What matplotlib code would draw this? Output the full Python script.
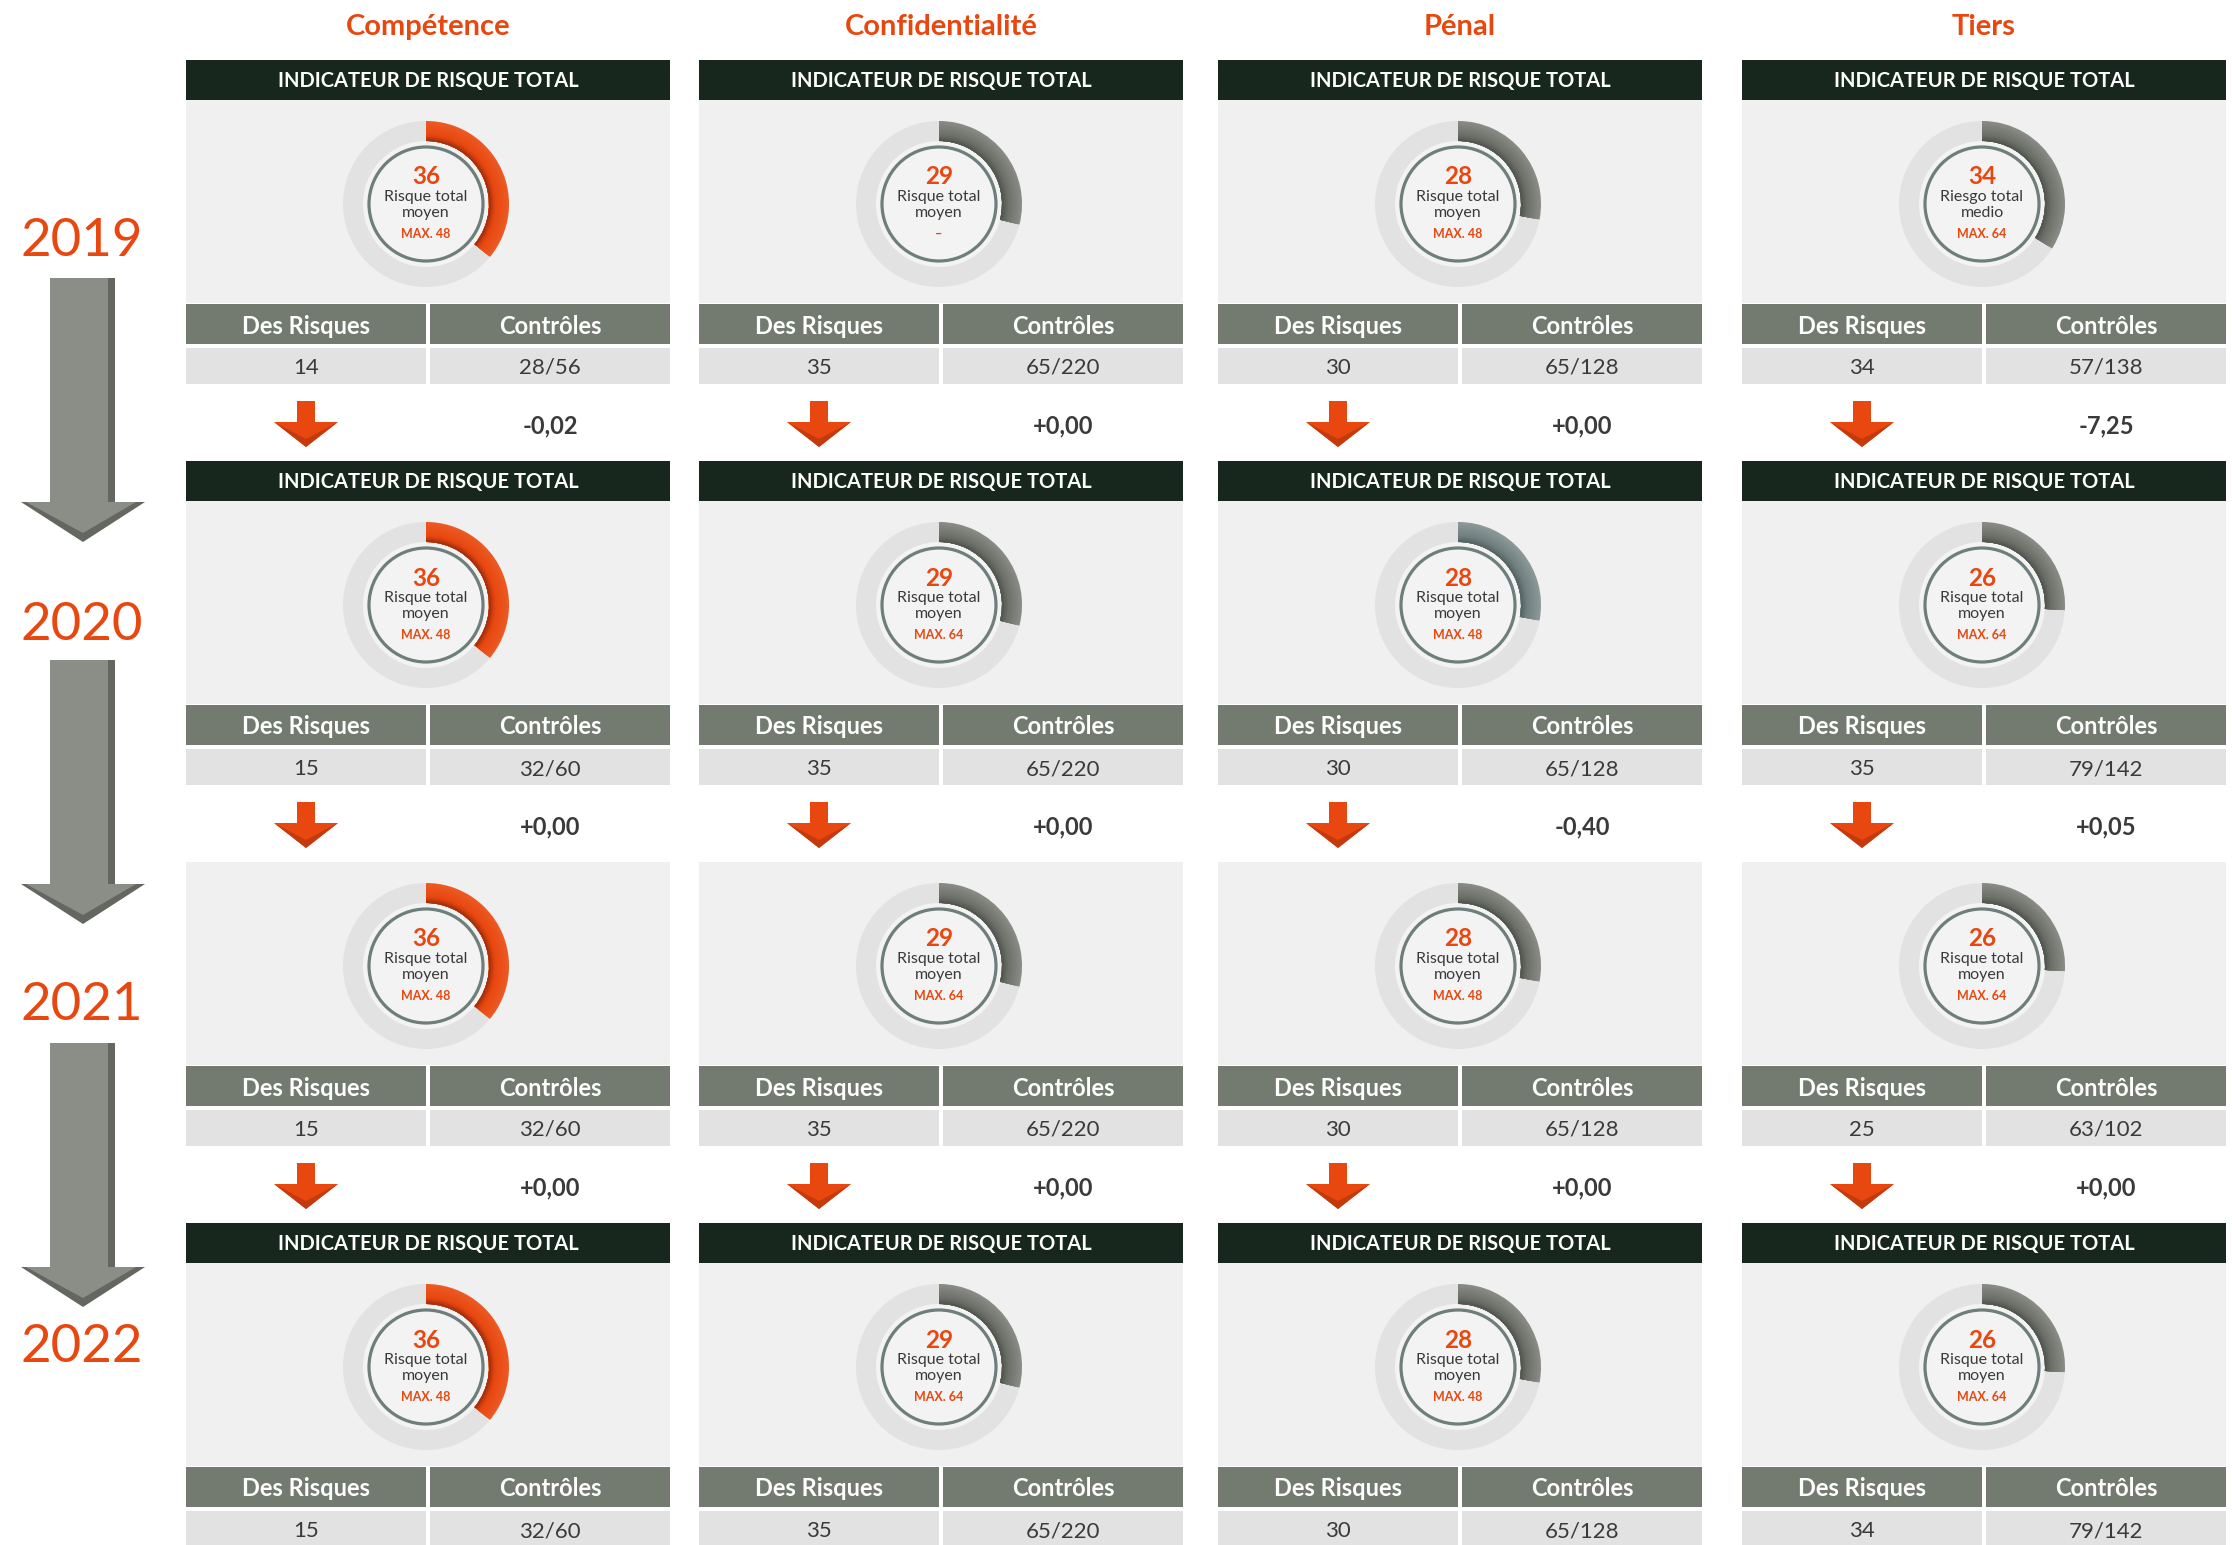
import numpy as np
import matplotlib.pyplot as plt
from matplotlib.patches import Rectangle, Wedge, Circle, Polygon
from matplotlib.colors import to_rgb

plt.rcParams['font.family'] = ['Lato', 'DejaVu Sans']

# ---- data ----
columns = ["Compétence", "Confidentialité", "Pénal", "Tiers"]
years = ["2019", "2020", "2021", "2022"]

total_competence = [36, 36, 36, 36]
total_confidentialite = [29, 29, 29, 29]
total_penal = [28, 28, 28, 28]
total_tiers = [34, 26, 26, 26]

max_competence = ["MAX. 48", "MAX. 48", "MAX. 48", "MAX. 48"]
max_confidentialite = ["–", "MAX. 64", "MAX. 64", "MAX. 64"]
max_penal = ["MAX. 48", "MAX. 48", "MAX. 48", "MAX. 48"]
max_tiers = ["MAX. 64", "MAX. 64", "MAX. 64", "MAX. 64"]

label_fr = ["Risque total", "moyen"]
label_es = ["Riesgo total", "medio"]
tiers_labels = [label_es, label_fr, label_fr, label_fr]

risques_competence = ["14", "15", "15", "15"]
risques_confidentialite = ["35", "35", "35", "35"]
risques_penal = ["30", "30", "30", "30"]
risques_tiers = ["34", "35", "25", "34"]

controles_competence = ["28/56", "32/60", "32/60", "32/60"]
controles_confidentialite = ["65/220", "65/220", "65/220", "65/220"]
controles_penal = ["65/128", "65/128", "65/128", "65/128"]
controles_tiers = ["57/138", "79/142", "63/102", "79/142"]

# change shown between one year and the next
delta_competence = ["-0,02", "+0,00", "+0,00"]
delta_confidentialite = ["+0,00", "+0,00", "+0,00"]
delta_penal = ["+0,00", "-0,40", "+0,00"]
delta_tiers = ["-7,25", "+0,05", "+0,00"]

arc_competence = ["orange"] * 4
arc_confidentialite = ["grey"] * 4
arc_penal = ["grey", "bluegrey", "grey", "grey"]
arc_tiers = ["grey"] * 4

has_header = [True, True, False, True]

totals = [total_competence, total_confidentialite, total_penal, total_tiers]
maxes = [max_competence, max_confidentialite, max_penal, max_tiers]
labels = [[label_fr] * 4, [label_fr] * 4, [label_fr] * 4, tiers_labels]
risques = [risques_competence, risques_confidentialite, risques_penal, risques_tiers]
controles = [controles_competence, controles_confidentialite, controles_penal, controles_tiers]
deltas = [delta_competence, delta_confidentialite, delta_penal, delta_tiers]
arcs = [arc_competence, arc_confidentialite, arc_penal, arc_tiers]

# ---- colours ----
ORANGE = "#e8470f"
DARK = "#17271d"
TH = "#737a70"
VALBG = "#e2e2e2"
GBG = "#f0f0f0"
RING = "#e2e2e2"
TXT = "#3a3a3a"
CIRC = "#6e7e7b"
arc_cols = {
    "orange": ("#9a2b0c", "#e8470f", "#ec5a24"),
    "grey": ("#4d524b", "#6b6f67", "#8a8d85"),
    "bluegrey": ("#526060", "#6f7e7e", "#8e9a9a"),
}


def mix(a, b, t):
    a, b = np.array(to_rgb(a)), np.array(to_rgb(b))
    return tuple(a + (b - a) * t)


fig = plt.figure(figsize=(22.32, 15.45), dpi=100)
ax = fig.add_axes([0, 0, 1, 1])
ax.set_xlim(0, 2232)
ax.set_ylim(1545, 0)
ax.axis('off')

card_left = [186, 699, 1218, 1742]
card_w = 484

# vertical layout of each year block
row_y = []
y = 60
for r in range(4):
    d = {}
    if has_header[r]:
        d['hdr'] = y
        y += 40
    d['gauge'] = y
    y += 203 + 1
    d['th'] = y
    y += 40 + 4
    d['val'] = y
    y += 36
    d['gap'] = y + 38
    y += 77
    row_y.append(d)

for c, col in enumerate(columns):
    x0 = card_left[c]
    xc = x0 + card_w / 2
    ax.text(xc, 27, col, ha='center', va='center', fontsize=21,
            fontweight='bold', color=ORANGE)
    for r in range(4):
        d = row_y[r]
        if 'hdr' in d:
            ax.add_patch(Rectangle((x0, d['hdr']), card_w, 40, color=DARK, lw=0))
            ax.text(xc, d['hdr'] + 21, "INDICATEUR DE RISQUE TOTAL", ha='center',
                    va='center', fontsize=14.5, fontweight='bold', color='white')
        ax.add_patch(Rectangle((x0, d['gauge']), card_w, 203, color=GBG, lw=0))

        # gauge: arc length = value out of 100
        gx, gy = x0 + 240, d['gauge'] + 104
        ax.add_patch(Circle((gx, gy), 83, color=RING, lw=0))
        ax.add_patch(Circle((gx, gy), 63, color="#f3f3f3", lw=0))
        inner, mid, outer = arc_cols[arcs[c][r]]
        span = totals[c][r] * 3.6
        nb = 10
        for k in range(nb - 1, -1, -1):
            t = (k + 0.5) / nb
            col_k = mix(inner, mid, t / 0.3) if t < 0.3 else mix(mid, outer, (t - 0.3) / 0.7)
            rk = 63 + 2 * (k + 1)
            ax.add_patch(Wedge((gx, gy), rk, -90, -90 + span,
                               width=rk - 63, color=col_k, lw=0))
        ax.add_patch(Circle((gx, gy), 57, fill=False, ec=CIRC, lw=2.3))
        ax.text(gx, gy - 27, str(totals[c][r]), ha='center', va='center',
                fontsize=17.5, fontweight='bold', color=ORANGE)
        ax.text(gx, gy - 7, labels[c][r][0], ha='center', va='center',
                fontsize=11.5, color=TXT)
        ax.text(gx, gy + 9, labels[c][r][1], ha='center', va='center',
                fontsize=11.5, color=TXT)
        ax.text(gx, gy + 30, maxes[c][r], ha='center', va='center',
                fontsize=9, fontweight='bold', color=ORANGE)

        # table
        lc = x0 + 120
        rc = x0 + 364
        ax.add_patch(Rectangle((x0, d['th']), 240, 40, color=TH, lw=0))
        ax.add_patch(Rectangle((x0 + 244, d['th']), 240, 40, color=TH, lw=0))
        ax.text(lc, d['th'] + 22, "Des Risques", ha='center', va='center',
                fontsize=17, fontweight='bold', color='white')
        ax.text(rc, d['th'] + 22, "Contrôles", ha='center', va='center',
                fontsize=17, fontweight='bold', color='white')
        ax.add_patch(Rectangle((x0, d['val']), 240, 36, color=VALBG, lw=0))
        ax.add_patch(Rectangle((x0 + 244, d['val']), 240, 36, color=VALBG, lw=0))
        ax.text(lc, d['val'] + 20, risques[c][r], ha='center', va='center',
                fontsize=16, color=TXT)
        ax.text(rc, d['val'] + 20, controles[c][r], ha='center', va='center',
                fontsize=16, color=TXT)

        # change to the next year
        if r < 3:
            ay = d['gap']
            ax.add_patch(Polygon([(lc - 9, ay - 21), (lc + 9, ay - 21), (lc + 9, ay),
                                  (lc + 32, ay), (lc, ay + 25), (lc - 32, ay),
                                  (lc - 9, ay)], closed=True, color=ORANGE, lw=0))
            ax.add_patch(Polygon([(lc - 32, ay), (lc, ay + 25), (lc + 32, ay),
                                  (lc, ay + 17)], closed=True, color="#c53a0c", lw=0))
            ax.text(rc, ay + 4, deltas[c][r], ha='center', va='center',
                    fontsize=17, fontweight='bold', color=TXT)

# years and big grey arrows on the left
year_y = [242, 625, 1005, 1348]
arrow_top = [278, 660, 1043]
for i, yr in enumerate(years):
    ax.text(82, year_y[i], yr, ha='center', va='center', fontsize=38, color=ORANGE)
for t in arrow_top:
    base = t + 224
    tip = t + 264
    ax.add_patch(Polygon([(50, t), (115, t), (115, base), (145, base), (83, tip),
                          (21, base), (50, base)], closed=True, color="#64675f", lw=0))
    ax.add_patch(Polygon([(50, t), (108, t), (108, base), (136, base), (83, tip - 9),
                          (26, base), (50, base)], closed=True, color="#8b8e87", lw=0))

fig.savefig("out.png", dpi=100, facecolor='white')
